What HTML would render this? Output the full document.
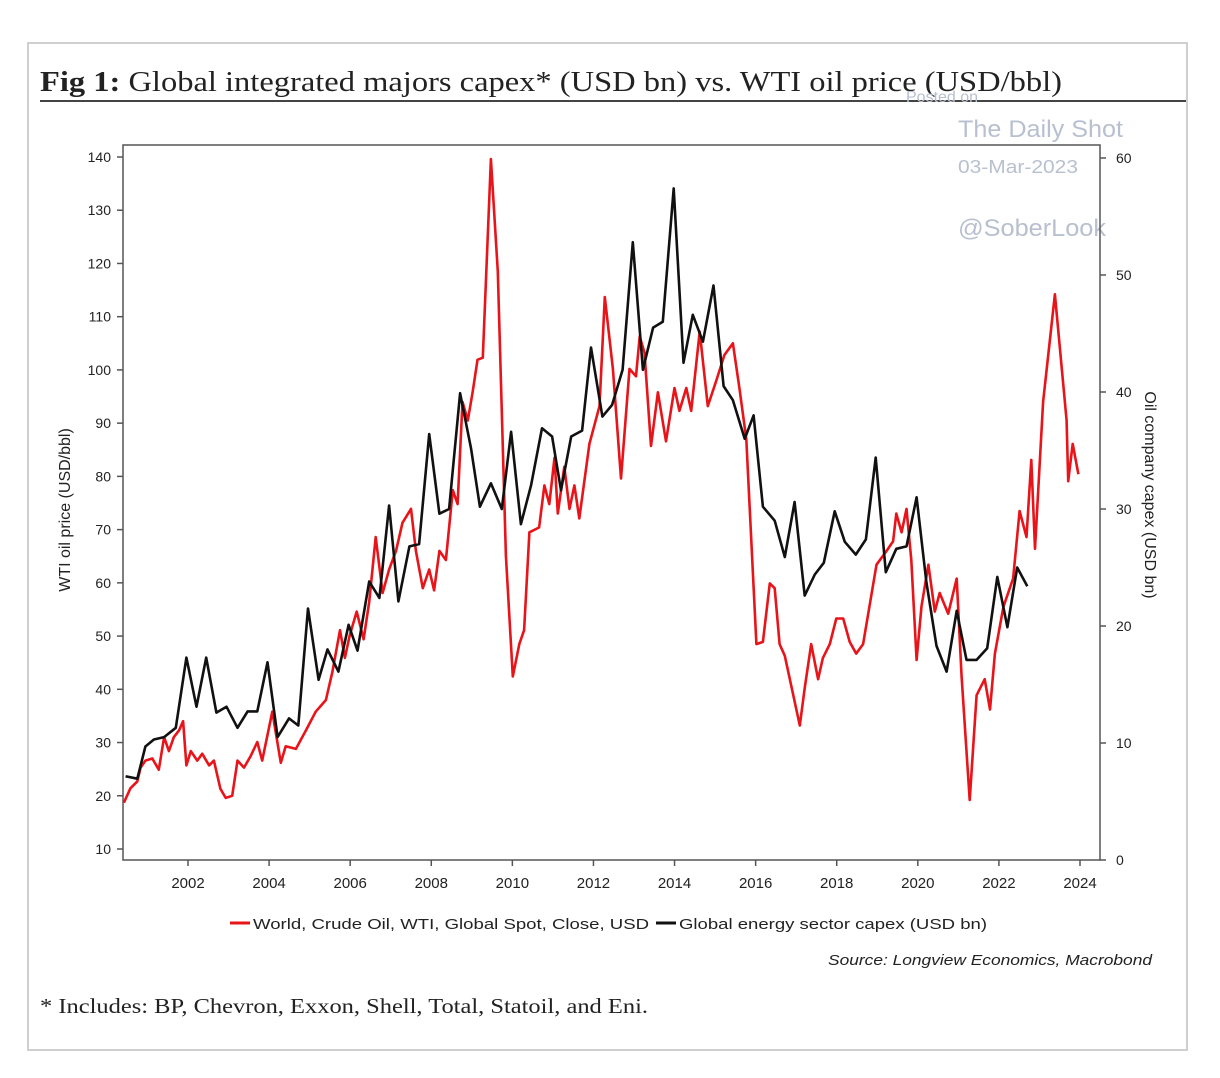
<!DOCTYPE html>
<html><head><meta charset="utf-8"><style>
body{margin:0;background:#fff;width:1220px;height:1078px;overflow:hidden;font-family:"Liberation Sans",sans-serif}
svg{position:absolute;left:0;top:0}
</style></head><body>
<svg id="c" width="1220" height="1078">
<rect x="28" y="43" width="1159" height="1007" fill="none" stroke="#cfcfcf" stroke-width="2"/>
<text x="40" y="91" font-family="Liberation Serif,serif" font-size="28" fill="#222" textLength="1022" lengthAdjust="spacingAndGlyphs"><tspan font-weight="bold">Fig 1:</tspan> Global integrated majors capex* (USD bn) vs. WTI oil price (USD/bbl)</text>
<line x1="40" y1="101" x2="1186" y2="101" stroke="#444" stroke-width="2"/>
<g fill="#b8c0d0">
<text x="906" y="102" font-size="16">Posted on</text>
<text x="958" y="137" font-size="24" textLength="165" lengthAdjust="spacingAndGlyphs">The Daily Shot</text>
<text x="958" y="173" font-size="18" textLength="120" lengthAdjust="spacingAndGlyphs">03-Mar-2023</text>
<text x="958" y="236" font-size="24" textLength="148" lengthAdjust="spacingAndGlyphs">@SoberLook</text>
</g>
<g id="axes"></g>
<g id="series"></g>
<text transform="translate(70,510) rotate(-90)" text-anchor="middle" font-size="16" fill="#222">WTI oil price (USD/bbl)</text>
<text transform="translate(1145,495) rotate(90)" text-anchor="middle" font-size="16" fill="#222">Oil company capex (USD bn)</text>
<g font-size="15" fill="#222">
<line x1="230" y1="923" x2="250" y2="923" stroke="#e8141a" stroke-width="3"/>
<text x="253" y="929" textLength="396" lengthAdjust="spacingAndGlyphs">World, Crude Oil, WTI, Global Spot, Close, USD</text>
<line x1="656" y1="923" x2="676" y2="923" stroke="#111" stroke-width="3"/>
<text x="679" y="929" textLength="308" lengthAdjust="spacingAndGlyphs">Global energy sector capex (USD bn)</text>
</g>
<text x="828" y="965" font-size="15" font-style="italic" fill="#222" textLength="324" lengthAdjust="spacingAndGlyphs">Source: Longview Economics, Macrobond</text>
<text x="40" y="1013" font-family="Liberation Serif,serif" font-size="21" fill="#222" textLength="608" lengthAdjust="spacingAndGlyphs">* Includes: BP, Chevron, Exxon, Shell, Total, Statoil, and Eni.</text>
</svg>
<script>
const xTicks=[2002,2004,2006,2008,2010,2012,2014,2016,2018,2020,2022,2024];
const leftTicks=[10,20,30,40,50,60,70,80,90,100,110,120,130,140];
const rightTicks=[0,10,20,30,40,50,60];
const capexDates=[2000.46,2000.75,2000.95,2001.16,2001.41,2001.7,2001.96,2002.21,2002.45,2002.7,2002.95,2003.22,2003.47,2003.71,2003.96,2004.21,2004.49,2004.72,2004.96,2005.22,2005.44,2005.71,2005.96,2006.18,2006.47,2006.72,2006.96,2007.19,2007.46,2007.7,2007.95,2008.2,2008.44,2008.71,2008.98,2009.2,2009.47,2009.74,2009.97,2010.21,2010.46,2010.73,2010.98,2011.2,2011.45,2011.72,2011.94,2012.22,2012.46,2012.72,2012.97,2013.22,2013.47,2013.71,2013.98,2014.22,2014.45,2014.7,2014.96,2015.21,2015.44,2015.73,2015.95,2016.18,2016.47,2016.72,2016.96,2017.21,2017.46,2017.68,2017.95,2018.2,2018.47,2018.72,2018.96,2019.21,2019.47,2019.72,2019.97,2020.21,2020.46,2020.71,2020.96,2021.2,2021.45,2021.71,2021.96,2022.21,2022.45,2022.7];
const capexValues=[7.15,6.95,9.7,10.3,10.5,11.3,17.3,13.1,17.3,12.6,13.1,11.3,12.7,12.7,16.9,10.5,12.1,11.5,21.5,15.4,18,16.1,20.1,17.9,23.8,22.4,30.3,22.1,26.8,27,36.4,29.6,30,39.9,35.2,30.2,32.2,30,36.6,28.7,32,36.9,36.2,31.6,36.2,36.7,43.8,37.9,38.9,41.9,52.8,41.9,45.5,46,57.4,42.5,46.6,44.3,49.1,40.5,39.3,36,38,30.2,29,25.9,30.6,22.6,24.4,25.4,29.8,27.2,26.1,27.4,34.4,24.6,26.6,26.8,31,23.8,18.3,16.1,21.3,17.1,17.1,18.1,24.2,19.9,25,23.4];
const wtiDates=[2000.42,2000.58,2000.75,2000.83,2000.95,2001.12,2001.28,2001.41,2001.53,2001.65,2001.78,2001.88,2001.96,2002.07,2002.23,2002.35,2002.52,2002.64,2002.8,2002.93,2003.09,2003.22,2003.38,2003.55,2003.71,2003.83,2004.08,2004.29,2004.41,2004.66,2004.91,2005.15,2005.4,2005.56,2005.75,2005.87,2005.99,2006.16,2006.33,2006.47,2006.63,2006.8,2006.96,2007.13,2007.29,2007.5,2007.62,2007.79,2007.95,2008.07,2008.2,2008.36,2008.53,2008.65,2008.77,2008.9,2009.02,2009.14,2009.27,2009.47,2009.64,2009.84,2010.01,2010.17,2010.29,2010.42,2010.66,2010.79,2010.91,2011.04,2011.12,2011.28,2011.41,2011.53,2011.65,2011.9,2012.15,2012.28,2012.48,2012.68,2012.89,2013.05,2013.14,2013.26,2013.42,2013.59,2013.79,2014,2014.12,2014.29,2014.41,2014.62,2014.82,2015.03,2015.23,2015.44,2015.6,2015.77,2016.02,2016.18,2016.35,2016.47,2016.59,2016.72,2017.09,2017.21,2017.37,2017.54,2017.66,2017.83,2017.99,2018.16,2018.32,2018.48,2018.65,2018.98,2019.23,2019.39,2019.47,2019.6,2019.72,2019.84,2019.97,2020.09,2020.26,2020.42,2020.54,2020.75,2020.96,2021.08,2021.28,2021.45,2021.65,2021.78,2021.9,2022.11,2022.35,2022.51,2022.68,2022.8,2022.89,2023.09,2023.38,2023.67,2023.71,2023.82,2023.96];
const wtiValues=[18.7,21.4,22.7,25.3,26.6,27,24.9,31,28.4,31,32.3,34,25.7,28.4,26.6,27.9,25.7,26.6,21.3,19.6,20,26.6,25.3,27.5,30.1,26.6,35.8,26.2,29.3,28.8,32.3,35.8,38,43.2,51.1,45.9,50.2,54.6,49.4,56.4,68.6,58.1,62.5,66,71.3,73.9,66,59,62.5,58.6,66,64.3,77.4,74.8,94,90.5,95.8,101.9,102.3,139.6,118.5,65.1,42.4,48.5,51.1,69.5,70.4,78.3,74.8,83.5,73,81.8,73.9,78.3,72.1,86.1,93.2,113.7,100.2,79.6,100.2,98.8,106.3,103.2,85.7,95.8,86.6,96.6,92.3,96.6,92.3,107.2,93.2,98,102.8,105,96.6,87,48.5,48.9,59.9,59,48.5,46.3,33.2,40.2,48.5,41.9,45.9,48.5,53.3,53.3,48.9,46.7,48.5,63.4,66,67.8,73,69.5,73.9,64.3,45.5,55.6,63.4,54.6,58.1,54.2,60.8,42.4,19.2,38.9,41.9,36.2,46.7,55.5,60.8,73.5,68.6,83.1,66.4,94,114.2,90.5,79.1,86.1,80.4];

const NS='http://www.w3.org/2000/svg';
const L=123,R=1100,T=145,B=860;
const xs=y=>188+(y-2002)*(1080-188)/22;
const yl=v=>157+(140-v)*(849-157)/130;
const yr=v=>860-v*(860-158)/60;
function mk(tag,attrs,parent){const e=document.createElementNS(NS,tag);for(const k in attrs)e.setAttribute(k,attrs[k]);parent.appendChild(e);return e;}
const ax=document.getElementById('axes');
mk('rect',{x:L,y:T,width:R-L,height:B-T,fill:'none',stroke:'#555','stroke-width':1.5},ax);
for(const t of xTicks){const x=xs(t);
 const ln=mk('line',{x1:x,y1:B,x2:x,y2:B+6,stroke:'#555','stroke-width':1.5},ax);
 
 
 const tx=mk('text',{x:x,y:B+28,'text-anchor':'middle','font-size':15,fill:'#222'},ax);tx.textContent=t;
 
 }
for(const t of leftTicks){const y=yl(t);
 mk('line',{x1:L-6,y1:y,x2:L,y2:y,stroke:'#555','stroke-width':1.5},ax);
 const tx=mk('text',{x:L-12,y:y+5,'text-anchor':'end','font-size':14,fill:'#222'},ax);tx.textContent=t;
 
 }
for(const t of rightTicks){const y=yr(t);
 mk('line',{x1:R,y1:y,x2:R+6,y2:y,stroke:'#555','stroke-width':1.5},ax);
 const tx=mk('text',{x:R+16,y:y+5,'font-size':14,fill:'#222'},ax);tx.textContent=t;
 
 }
const sg=document.getElementById('series');
const p1=mk('path',{d:wtiDates.map((d,i)=>(i?'L':'M')+xs(d).toFixed(1)+','+yl(wtiValues[i]).toFixed(1)).join(''),fill:'none',stroke:'#e8141a','stroke-width':2.6,'stroke-linejoin':'round'},sg);


const p2=mk('path',{d:capexDates.map((d,i)=>(i?'L':'M')+xs(d).toFixed(1)+','+yr(capexValues[i]).toFixed(1)).join(''),fill:'none',stroke:'#111','stroke-width':2.6,'stroke-linejoin':'round'},sg);


</script>
</body></html>
